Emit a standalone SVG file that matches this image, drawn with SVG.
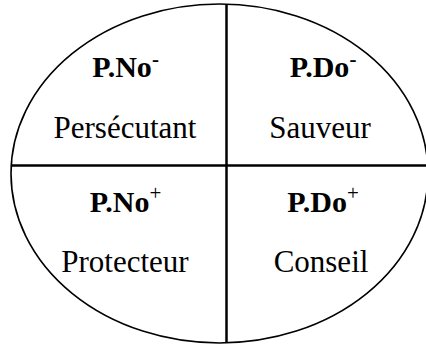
<svg xmlns="http://www.w3.org/2000/svg" width="426" height="346" viewBox="0 0 426 346">
<style>
text{fill:#000;text-anchor:middle}
.b{font-weight:bold;font-size:30px}
.r{font-size:31px}
.sup{font-size:21px}
.ln{stroke:#000;stroke-width:2.5;fill:none}
</style>
<rect width="426" height="346" fill="#fff"/>
<g id="ellipse">
<ellipse cx="219.5" cy="173.5" rx="208.5" ry="169.5" fill="none" stroke="#000" stroke-width="1.6"/>
</g>
<g id="connectors">
<line class="ln" x1="226.5" y1="4" x2="226.5" y2="343"/>
<line class="ln" x1="11" y1="165.5" x2="426" y2="165.5"/>
</g>
<g id="pno-minus" font-family="'Liberation Serif', serif">
<text class="b" x="125.5" y="77.3">P.No<tspan class="sup" dy="-11">-</tspan></text>
<text class="r" x="125" y="138">Persécutant</text>
</g>
<g id="pdo-minus" font-family="'Liberation Serif', serif">
<text class="b" x="323" y="77.3">P.Do<tspan class="sup" dy="-11">-</tspan></text>
<text class="r" x="320" y="138">Sauveur</text>
</g>
<g id="pno-plus" font-family="'Liberation Serif', serif">
<text class="b" x="125.5" y="211.7">P.No<tspan class="sup" dy="-12" font-weight="normal">+</tspan></text>
<text class="r" x="125" y="271.7">Protecteur</text>
</g>
<g id="pdo-plus" font-family="'Liberation Serif', serif">
<text class="b" x="323" y="211.7">P.Do<tspan class="sup" dy="-12" font-weight="normal">+</tspan></text>
<text class="r" x="321" y="271.7">Conseil</text>
</g>
</svg>
